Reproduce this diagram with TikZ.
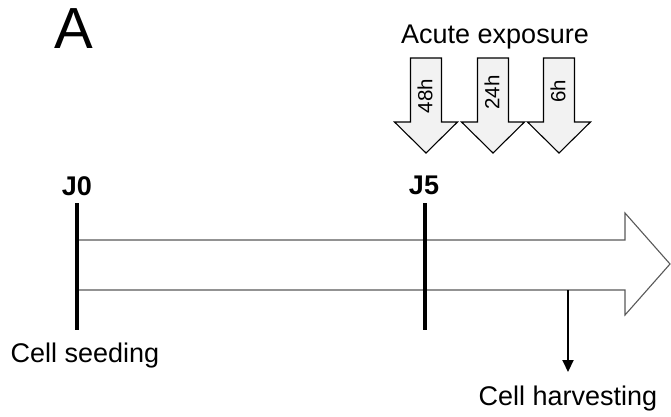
\documentclass[tikz,border=0pt]{standalone}
\usepackage{fontspec}
\setmainfont{Liberation Sans}
\usetikzlibrary{arrows.meta, positioning}

\begin{document}
\begin{tikzpicture}[
    x=1pt, y=-1pt,
    every node/.style={font=\fontsize{27}{31}\selectfont, inner sep=0pt},
    daylabel/.style={font=\bfseries\fontsize{27}{31}\selectfont},
    dayline/.style={line width=4pt, draw=black},
    timeline/.style={draw=black!65, line width=1.1pt, fill=white},
    doseshape/.style={draw=black, line width=1.1pt, fill=black!5},
    doselabel/.style={rotate=90, font=\fontsize{20.5}{24}\selectfont},
    harvest/.style={-{Triangle[length=12pt, width=11pt]}, line width=2pt}
]
\useasboundingbox (0,0) rectangle (671,416);

% Panel letter and heading
\node (panel) at (74,29) {\fontsize{58}{64}\selectfont A};
\node[anchor=base] (acute) at (495,43) {Acute exposure};

% Timeline arrow
\draw[timeline] (77,240) -- (625,240) -- (625,213) -- (670,264)
    -- (625,315) -- (625,290) -- (77,290);

% Exposure arrows
\foreach \xc/\yl/\dose in {426/96/48h, 493/92.5/24h, 559/91/6h}{
  \draw[doseshape] (\xc-15.5,58) -- (\xc+15.5,58) -- (\xc+15.5,122)
      -- (\xc+31.5,122) -- (\xc,153) -- (\xc-31.5,122) -- (\xc-15.5,122) -- cycle;
  \node[doselabel] (dose\dose) at (\xc-1,\yl) {\dose};
}

% Days
\node[daylabel] (j0) at (77,186) {J0};
\node[daylabel] (j5) at (424,185) {J5};
\coordinate (j0top) at (77,203);
\coordinate (j0bot) at (77,330);
\coordinate (j5top) at (425,203);
\coordinate (j5bot) at (425,330);
\draw[dayline] (j0top) -- (j0bot);
\draw[dayline] (j5top) -- (j5bot);

% Labels below
\node[anchor=base] (seeding) at (85,362) {Cell seeding};
\coordinate (harvtop) at (568,290);
\node[anchor=base] (harvesting) at (568,405) {Cell harvesting};
\draw[harvest] (harvtop) -- (568,372);

\end{tikzpicture}
\end{document}
